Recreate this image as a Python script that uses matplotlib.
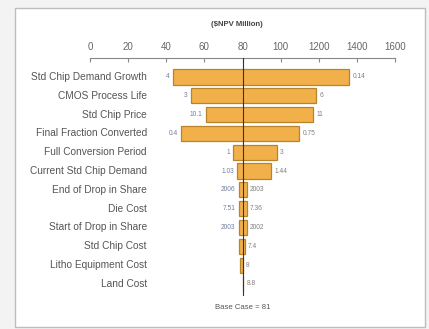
import matplotlib
matplotlib.use("Agg")
import matplotlib.pyplot as plt
from matplotlib.patches import Rectangle

plt.rcParams["font.family"] = ["Liberation Sans", "DejaVu Sans"]

categories = ["Std Chip Demand Growth", "CMOS Process Life", "Std Chip Price",
              "Final Fraction Converted", "Full Conversion Period",
              "Current Std Chip Demand", "End of Drop in Share", "Die Cost",
              "Start of Drop in Share", "Std Chip Cost", "Litho Equipment Cost",
              "Land Cost"]
low_values = [437, 529, 609, 478, 752, 773, 781, 781, 781, 781, 788, 800]
high_values = [1361, 1186, 1172, 1099, 980, 948, 822, 822, 822, 811, 801, 804]
low_labels = ["4", "3", "10.1", "0.4", "1", "1.03", "2006", "7.51", "2003", "", "", ""]
high_labels = ["0.14", "6", "11", "0.75", "3", "1.44", "2003", "7.36", "2002", "7.4", "8", "8.8"]
base_value = 801
tick_values = [0, 200, 400, 600, 800, 1000, 1200, 1400, 1600]
tick_labels = ["0", "20", "40", "60", "80", "100", "1200", "1400", "1600"]
title = "($NPV Million)"
base_label = "Base Case = 81"

W, H = 429, 329
fig = plt.figure(figsize=(W / 100, H / 100), dpi=100)
fig.patch.set_facecolor("#f3f3f3")
fig.patches.append(Rectangle((15 / W, 1 - 327 / H), 410 / W, 319 / H,
                             transform=fig.transFigure, facecolor="white",
                             edgecolor="#bdbdbd", linewidth=1.0, zorder=-10))

ax = fig.add_axes([90 / W, 1 - 300 / H, 305 / W, 242 / H])
ax.set_zorder(5)
ax.set_facecolor("none")
n = len(categories)
ys = list(range(n))
for y, lo, hi in zip(ys, low_values, high_values):
    ax.barh(y, hi - lo, left=lo, height=0.8, color="#F2B04B",
            edgecolor="#B9832B", linewidth=0.9, zorder=2)
for y, lo, hi, ll, hl in zip(ys, low_values, high_values, low_labels, high_labels):
    if ll:
        ax.text(lo - 18, y, ll, ha="right", va="center", fontsize=4.8,
                color="#7080a0", zorder=3)
    if hl:
        ax.text(hi + 18, y, hl, ha="left", va="center", fontsize=4.8,
                color="#808080", zorder=3)
    
for y, cat in zip(ys, categories):
    ax.text(299, y, cat, ha="right", va="center", fontsize=7.3,
            color="#555555", zorder=3)

ax.set_xlim(0, 1600)
ax.set_ylim(11.86, -1.01)
ax.plot([base_value, base_value], [-1.01, 11.6], color="#333333",
        linewidth=0.8, zorder=4, clip_on=False)
ax.text(base_value, 12.25, base_label, ha="center", va="center",
        fontsize=5.6, color="#555555", clip_on=False)

ax.set_yticks([])
ax.xaxis.tick_top()
ax.set_xticks(tick_values)
ax.set_xticklabels(tick_labels, fontsize=7, color="#666666")
ax.tick_params(axis="x", direction="in", length=3, color="#888888", pad=4)
for s in ["bottom", "left", "right"]:
    ax.spines[s].set_visible(False)
ax.spines["top"].set_color("#888888")
ax.spines["top"].set_linewidth(0.8)

fig.text(237 / W, 1 - 25 / H, title, ha="center", va="center",
         fontsize=5.6, color="#444444", fontweight="bold")

fig.savefig("out.png", dpi=100, facecolor=fig.get_facecolor())
